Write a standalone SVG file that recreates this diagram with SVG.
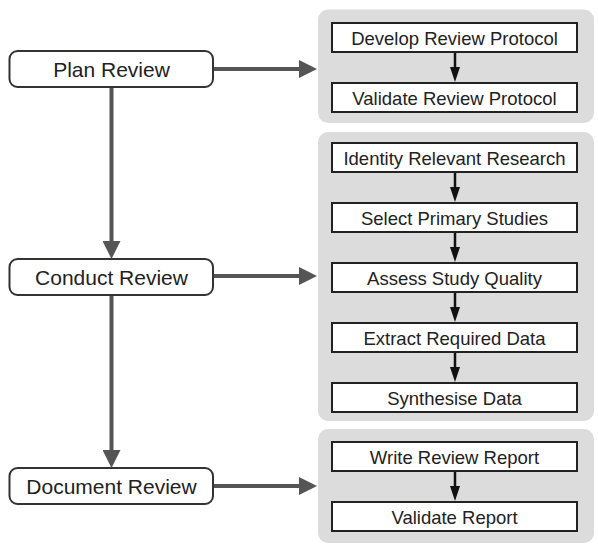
<svg xmlns="http://www.w3.org/2000/svg" width="598" height="548" viewBox="0 0 598 548">
<style>
.stage rect{fill:#fff;stroke:#333;stroke-width:2}
.stage text{font-family:"Liberation Sans",Arial,sans-serif;font-size:21px;fill:#222;text-anchor:middle}
.panel{fill:#dcdcdc}
.step rect{fill:#fff;stroke:#222;stroke-width:2}
.step text{font-family:"Liberation Sans",Arial,sans-serif;font-size:18.5px;fill:#222;text-anchor:middle}
.main{stroke:#555;stroke-width:4;fill:none;marker-end:url(#ah)}
.sub{stroke:#111;stroke-width:2.5;fill:none;marker-end:url(#sh)}
</style>
<defs>
<marker id="ah" markerUnits="userSpaceOnUse" markerWidth="18" markerHeight="18" refX="8" refY="9" orient="auto">
<path d="M0,0 L18,9 L0,18 z" fill="#555"/>
</marker>
<marker id="sh" markerUnits="userSpaceOnUse" markerWidth="15" markerHeight="10" refX="8" refY="5" orient="auto">
<path d="M0,0 L15,5 L0,10 z" fill="#111"/>
</marker>
</defs>
<g id="panels">
<rect class="panel" x="318" y="9.5" width="276" height="113.5" rx="10"/>
<rect class="panel" x="318" y="132" width="276" height="289" rx="10"/>
<rect class="panel" x="318" y="429" width="276" height="114" rx="10"/>
</g>
<g id="connectors">
<line class="main" x1="111.5" y1="88" x2="111.5" y2="249"/>
<line class="main" x1="111.5" y1="296" x2="111.5" y2="458"/>
<line class="main" x1="214" y1="69" x2="307" y2="69"/>
<line class="main" x1="214" y1="276" x2="307" y2="276"/>
<line class="main" x1="214" y1="486" x2="307" y2="486"/>
<line class="sub" x1="455" y1="53" x2="455" y2="75"/>
<line class="sub" x1="455" y1="173" x2="455" y2="195"/>
<line class="sub" x1="455" y1="233" x2="455" y2="255"/>
<line class="sub" x1="455" y1="293" x2="455" y2="315"/>
<line class="sub" x1="455" y1="353" x2="455" y2="375"/>
<line class="sub" x1="455" y1="472" x2="455" y2="494"/>
</g>
<g id="plan-review" class="stage"><rect x="9.5" y="51" width="203.5" height="36" rx="8"/><text x="111.5" y="76.5">Plan Review</text></g>
<g id="conduct-review" class="stage"><rect x="9.5" y="259" width="203.5" height="36" rx="8"/><text x="111.5" y="284.5">Conduct Review</text></g>
<g id="document-review" class="stage"><rect x="9.5" y="468" width="203.5" height="36" rx="8"/><text x="111.5" y="493.5">Document Review</text></g>
<g id="develop-review-protocol" class="step"><rect x="332" y="23" width="245" height="29"/><text x="454.5" y="44.5">Develop Review Protocol</text></g>
<g id="validate-review-protocol" class="step"><rect x="332" y="83" width="245" height="29"/><text x="454.5" y="104.5">Validate Review Protocol</text></g>
<g id="identity-relevant-research" class="step"><rect x="332" y="143" width="245" height="29"/><text x="454.5" y="164.5">Identity Relevant Research</text></g>
<g id="select-primary-studies" class="step"><rect x="332" y="203" width="245" height="29"/><text x="454.5" y="224.5">Select Primary Studies</text></g>
<g id="assess-study-quality" class="step"><rect x="332" y="263" width="245" height="29"/><text x="454.5" y="284.5">Assess Study Quality</text></g>
<g id="extract-required-data" class="step"><rect x="332" y="323" width="245" height="29"/><text x="454.5" y="344.5">Extract Required Data</text></g>
<g id="synthesise-data" class="step"><rect x="332" y="383" width="245" height="29"/><text x="454.5" y="404.5">Synthesise Data</text></g>
<g id="write-review-report" class="step"><rect x="332" y="442" width="245" height="29"/><text x="454.5" y="463.5">Write Review Report</text></g>
<g id="validate-report" class="step"><rect x="332" y="502" width="245" height="29"/><text x="454.5" y="523.5">Validate Report</text></g>
</svg>
